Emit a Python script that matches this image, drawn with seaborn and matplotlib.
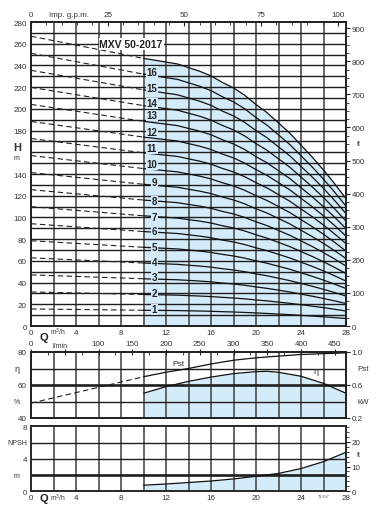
import matplotlib
matplotlib.use("Agg")
import matplotlib.pyplot as plt
import matplotlib.transforms as mtrans
import numpy as np
import seaborn as sns

# head per stage (m); the MXV 50-2017 has 17 stages
q_dash = [0, 10]
h_dash = [15.7, 14.5]
q_curve = [10, 11, 12, 13, 14, 15, 16, 17, 18, 19, 20, 21, 22, 23, 24, 25, 26, 27, 28]
h_curve = [14.5, 14.4, 14.3, 14.2, 14.0, 13.8, 13.55, 13.2, 12.9, 12.5,
           12.0, 11.55, 11.0, 10.45, 9.8, 9.15, 8.45, 7.7, 6.9]
stages = list(range(1, 18))
labelled = list(range(1, 17))
label_h = [15.5, 30.4, 45.4, 58.6, 72.5, 87.5, 100, 115, 133, 149, 164, 179, 194, 205, 219, 234]

# efficiency (%), shaft power (kW) and NPSH (m)
q_pst_dash = [0, 10]
pst_dash = [0.38, 0.70]
q_pst = [10, 12, 14, 16, 18, 20, 22, 24, 26, 28]
pst = [0.70, 0.755, 0.80, 0.855, 0.90, 0.93, 0.95, 0.97, 0.98, 0.99]
q_eff = [10, 12, 14, 16, 18, 20, 21, 22, 24, 26, 28]
eff = [55, 59, 62.2, 64.8, 66.9, 68.1, 68.3, 67.7, 65.3, 61, 55]
q_npsh = [10, 12, 14, 16, 18, 20, 22, 24, 26, 28]
npsh = [0.75, 0.9, 1.08, 1.27, 1.52, 1.85, 2.2, 2.8, 3.65, 4.8]

q_ticks = [0, 4, 8, 12, 16, 20, 24, 28]

sns.set_theme(style="white")
plt.rcParams["font.family"] = ["Liberation Sans", "DejaVu Sans"]
plt.rcParams["mathtext.default"] = "regular"

BLUE = "#d4ebf9"
TXT = "#333333"
FS = 5.8

fig = plt.figure(figsize=(3.77, 5.10), dpi=100)
ax = fig.add_axes([31 / 377, 183 / 510, 315 / 377, 304 / 510])
ax2 = fig.add_axes([31 / 377, 91 / 510, 315 / 377, 66 / 510])
ax3 = fig.add_axes([31 / 377, 17.7 / 510, 315 / 377, 65 / 510])


def grid(a, ys, thick=()):
    for x in range(2, 28, 2):
        a.axvline(x, color="#5a5a5a", lw=1.3, zorder=2)
    for y in ys:
        a.axhline(y, color="#1e1e1e", lw=1.9 if y in thick else 1.0, zorder=2)


def style(a):
    for s in a.spines.values():
        s.set_color("#222222")
        s.set_linewidth(1.1)
    a.tick_params(colors="#222222", labelcolor=TXT, labelsize=FS)


def left_text(a, y, s, **kw):
    tr = mtrans.blended_transform_factory(a.transAxes, a.transData)
    a.text(-0.045, y, s, transform=tr, ha="center", va="center", color=TXT, **kw)


def right_text(a, y, s, **kw):
    tr = mtrans.blended_transform_factory(a.transAxes, a.transData)
    a.text(1.035, y, s, transform=tr, ha="left", va="center", color=TXT, **kw)


def q_axis(a):
    a.set_xticks(q_ticks)
    a.set_xticklabels([str(q) for q in q_ticks])
    a.tick_params(axis="x", bottom=True, length=0, pad=2)
    tr = mtrans.blended_transform_factory(a.transData, a.transAxes)
    a.text(1.1, -0.02, "Q", transform=tr, fontsize=8, fontweight="bold",
           ha="center", va="top", color="#222222")
    a.text(2.4, 0.0, "m$^3$/h", transform=tr, fontsize=4.8, ha="center",
           va="top", color=TXT)


# ---- head curves
style(ax)
ax.set_xlim(0, 28)
ax.set_ylim(0, 280)
grid(ax, range(10, 280, 10))
ax.fill_between(q_curve, [17 * h for h in h_curve], color=BLUE, lw=0, zorder=1)
for n in stages:
    sns.lineplot(x=q_curve, y=[n * h for h in h_curve], ax=ax, color="#111111",
                 linewidth=0.9, zorder=3)
    sns.lineplot(x=q_dash, y=[n * h for h in h_dash], ax=ax, color="#222222",
                 linewidth=0.8, linestyle=(0, (5, 3)), zorder=3)
for n, y in zip(labelled, label_h):
    ax.text(11.2, y, str(n), fontsize=7, fontweight="bold", color="#222222",
            ha="right", va="center", zorder=4,
            bbox=dict(facecolor=BLUE, edgecolor="none", pad=0.4))
ax.text(8.9, 260, "MXV 50-2017", fontsize=7.5, fontweight="bold", color="#222222",
        ha="center", va="center", zorder=5,
        bbox=dict(facecolor="white", edgecolor="none", pad=0.6))
ax.set_yticks(range(0, 281, 20))
ax.set_yticklabels(["" if v == 160 else str(v) for v in range(0, 281, 20)])
ax.tick_params(axis="y", left=True, length=0, pad=3)
left_text(ax, 165, "H", fontsize=8, fontweight="bold")
left_text(ax, 155, "m", fontsize=5)
q_axis(ax)
ax.set_xlabel("")
ax.set_ylabel("")

axr = ax.twinx()
style(axr)
axr.set_ylim(0, 280 / 0.3048)
axr.set_yticks(range(0, 901, 100))
axr.set_yticks(np.arange(0, 901, 25), minor=True)
axr.tick_params(axis="y", which="major", right=True, length=3, width=0.8, pad=1)
axr.tick_params(axis="y", which="minor", right=True, length=2, width=0.6)
right_text(axr, 550, "ft", fontsize=5)

axt = ax.twiny()
style(axt)
axt.set_xlim(0, 28 * 1000 / 60 / 4.54609)
axt.set_xticks([0, 25, 50, 75, 100])
axt.set_xticks(np.arange(0, 101, 5), minor=True)
axt.tick_params(axis="x", which="major", top=True, direction="in", length=3, width=0.8, pad=3)
axt.tick_params(axis="x", which="minor", top=True, direction="in", length=2.5, width=0.6)
axt.text(12.3, 1.012, "Imp. g.p.m.", transform=mtrans.blended_transform_factory(
    axt.transData, axt.transAxes), fontsize=FS, ha="center", va="bottom", color=TXT)

# ---- efficiency and power
style(ax2)
ax2.set_xlim(0, 28)
ax2.set_ylim(40, 80)
grid(ax2, [50, 60, 70], thick=[60])
ax2.fill_between(q_eff, eff, 40, color=BLUE, lw=0, zorder=1)
sns.lineplot(x=q_eff, y=eff, ax=ax2, color="#111111", linewidth=0.9, zorder=3)
ax2.set_yticks([40, 60, 80])
ax2.tick_params(axis="y", left=True, length=0, pad=3)
ax2.set_xticks([])
left_text(ax2, 70, "η", fontsize=6.5)
left_text(ax2, 50, "%", fontsize=5)
ax2.text(25.3, 69, "η", fontsize=6.5, color=TXT, ha="center", va="center", zorder=4)
ax2.set_xlabel("")
ax2.set_ylabel("")

ax2r = ax2.twinx()
style(ax2r)
ax2r.set_ylim(0.2, 1.0)
sns.lineplot(x=q_pst, y=pst, ax=ax2r, color="#111111", linewidth=0.9, zorder=3)
sns.lineplot(x=q_pst_dash, y=pst_dash, ax=ax2r, color="#222222", linewidth=0.8,
             linestyle=(0, (5, 3)), zorder=3)
ax2r.text(13.1, 0.865, "Pst", fontsize=6, color=TXT, ha="center", va="center")
ax2r.set_yticks([0.2, 0.6, 1.0])
ax2r.set_yticklabels(["0.2", "0.6", "1.0"])
ax2r.tick_params(axis="y", right=True, length=3, width=0.8, pad=1)
right_text(ax2r, 0.8, "Pst", fontsize=FS)
right_text(ax2r, 0.4, "kW", fontsize=FS)
ax2r.set_ylabel("")

ax2t = ax2.twiny()
style(ax2t)
ax2t.set_xlim(0, 28 * 1000 / 60)
ax2t.set_xticks(range(0, 451, 50))
ax2t.set_xticklabels(["" if v == 50 else str(v) for v in range(0, 451, 50)])
ax2t.set_xticks(range(0, 466, 25), minor=True)
ax2t.tick_params(axis="x", which="major", top=True, direction="inout", length=4, width=0.8, pad=1.5)
ax2t.tick_params(axis="x", which="minor", top=True, direction="in", length=2, width=0.6)
ax2t.text(43, 1.05, "l/min", transform=mtrans.blended_transform_factory(
    ax2t.transData, ax2t.transAxes), fontsize=5, ha="center", va="bottom", color=TXT)

# ---- NPSH
style(ax3)
ax3.set_xlim(0, 28)
ax3.set_ylim(0, 8)
grid(ax3, [2, 4, 6], thick=[2])
ax3.fill_between(q_npsh, npsh, 0, color=BLUE, lw=0, zorder=1)
sns.lineplot(x=q_npsh, y=npsh, ax=ax3, color="#111111", linewidth=0.9, zorder=3)
ax3.set_yticks([0, 4, 8])
ax3.tick_params(axis="y", left=True, length=0, pad=3)
left_text(ax3, 6, "NPSH", fontsize=5)
left_text(ax3, 2, "m", fontsize=5)
q_axis(ax3)
ax3.text(26.0, -0.045, "73.837", transform=mtrans.blended_transform_factory(
    ax3.transData, ax3.transAxes), fontsize=2.8, ha="center", va="top", color="#555555")
ax3.set_xlabel("")
ax3.set_ylabel("")

ax3r = ax3.twinx()
style(ax3r)
ax3r.set_ylim(0, 8 / 0.3048)
ax3r.set_yticks([0, 10, 20])
ax3r.set_yticks(range(0, 27, 2), minor=True)
ax3r.tick_params(axis="y", which="major", right=True, length=3, width=0.8, pad=1)
ax3r.tick_params(axis="y", which="minor", right=True, length=2, width=0.6)
right_text(ax3r, 15, "ft", fontsize=5)

fig.savefig("out.png", dpi=100)
